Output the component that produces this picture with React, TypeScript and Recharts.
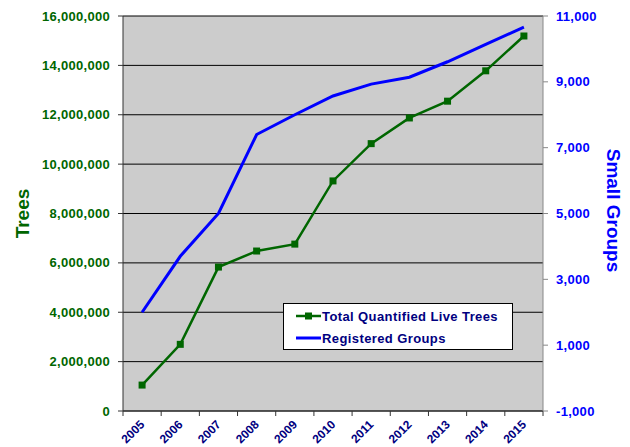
import React from "react";
import {
  ComposedChart,
  Line,
  XAxis,
  YAxis,
  CartesianGrid,
} from "recharts";

const years = [2005, 2006, 2007, 2008, 2009, 2010, 2011, 2012, 2013, 2014, 2015];
const liveTrees = [
  1050000, 2700000, 5830000, 6480000, 6760000, 9320000, 10830000, 11870000, 12550000, 13780000,
  15190000,
];
const registeredGroups = [2000, 3700, 5000, 7400, 8000, 8570, 8930, 9140, 9610, 10140, 10660];

const treeTicks = [0, 2000000, 4000000, 6000000, 8000000, 10000000, 12000000, 14000000, 16000000];
const groupTicks = [-1000, 1000, 3000, 5000, 7000, 9000, 11000];
// tick marks sit between the years, like the original
const yearBounds = [2004.5, 2005.5, 2006.5, 2007.5, 2008.5, 2009.5, 2010.5, 2011.5, 2012.5, 2013.5, 2014.5, 2015.5];

const FONT = "'Liberation Sans', Arial, sans-serif";
const GREEN = "#006600";
const BLUE = "#0000FF";
const NAVY = "#000080";

const data = years.map((y, i) => ({
  year: y,
  trees: liveTrees[i],
  groups: registeredGroups[i],
}));

const fmt = (v: number) => v.toLocaleString("en-US");

const YearTick = ({ x, y, payload }: any) => {
  const year = payload.value + 0.5;
  if (year > years[years.length - 1]) return null;
  const ax = x + 16;
  const ay = y + 1;
  return (
    <text
      x={ax}
      y={ay}
      transform={`rotate(-45, ${ax}, ${ay})`}
      textAnchor="end"
      dominantBaseline="hanging"
      fill={NAVY}
      fontSize={12}
      fontWeight="bold"
      fontFamily={FONT}
    >
      {year}
    </text>
  );
};

const SquareDot = (props: any) => {
  const { cx, cy, index } = props;
  return <rect key={`sq-${index}`} x={cx - 3.5} y={cy - 3.5} width={7} height={7} fill={GREEN} />;
};

const LegendBox = () => (
  <div
    style={{
      position: "absolute",
      left: 283,
      top: 303,
      width: 228,
      height: 45,
      background: "#fff",
      border: "1px solid #000",
      fontFamily: FONT,
      fontWeight: "bold",
      fontSize: 13,
      letterSpacing: 0.4,
      color: NAVY,
    }}
  >
    <div style={{ display: "flex", alignItems: "center", height: 22, marginTop: 1 }}>
      <svg width={36} height={10} style={{ marginLeft: 11 }}>
        <line x1={1} y1={5} x2={26} y2={5} stroke={GREEN} strokeWidth={2.5} />
        <rect x={10} y={1.5} width={7} height={7} fill={GREEN} />
      </svg>
      <span style={{ marginLeft: -9 }}>Total Quantified Live Trees</span>
    </div>
    <div style={{ display: "flex", alignItems: "center", height: 22 }}>
      <svg width={36} height={10} style={{ marginLeft: 11 }}>
        <line x1={1} y1={5} x2={26} y2={5} stroke={BLUE} strokeWidth={3} />
      </svg>
      <span style={{ marginLeft: -9 }}>Registered Groups</span>
    </div>
  </div>
);

export default function App() {
  return (
    <div style={{ position: "absolute", left: 0, top: 0, width: 630, height: 447, background: "#fff" }}>
      <ComposedChart
        width={630}
        height={447}
        data={data}
        margin={{ top: 16, right: 32, bottom: 6, left: 48 }}
      >
        <CartesianGrid
          yAxisId="trees"
          vertical={false}
          horizontal
          stroke="#000"
          strokeWidth={1}
          fill="#CCCCCC"
          fillOpacity={1}
        />
        <XAxis
          dataKey="year"
          type="number"
          domain={[2004.5, 2015.5]}
          ticks={yearBounds}
          interval={0}
          height={30}
          tick={<YearTick />}
          tickSize={5}
          axisLine={{ stroke: "#333" }}
          tickLine={{ stroke: "#333" }}
        />
        <YAxis
          yAxisId="trees"
          orientation="left"
          width={75}
          domain={[0, 16000000]}
          ticks={treeTicks}
          interval={0}
          tickFormatter={fmt}
          tickSize={5}
          tickMargin={8}
          axisLine={{ stroke: "#333" }}
          tickLine={{ stroke: "#333" }}
          tick={{ fill: GREEN, fontSize: 13, fontWeight: "bold", fontFamily: FONT, letterSpacing: 0.3 }}
          label={{
            content: (p: any) => {
              const vb = p.viewBox;
              const cx = vb.x - 26;
              const cy = vb.y + vb.height / 2;
              return (
                <text
                  x={cx}
                  y={cy}
                  transform={`rotate(-90, ${cx}, ${cy})`}
                  textAnchor="middle"
                  dominantBaseline="central"
                  fill={GREEN}
                  fontSize={19}
                  fontWeight="bold"
                  fontFamily={FONT}
                >
                  Trees
                </text>
              );
            },
          }}
        />
        <YAxis
          yAxisId="groups"
          orientation="right"
          width={55}
          domain={[-1000, 11000]}
          ticks={groupTicks}
          interval={0}
          tickFormatter={fmt}
          tickSize={5}
          tickMargin={8}
          axisLine={{ stroke: "#888" }}
          tickLine={{ stroke: "#888" }}
          tick={{ fill: BLUE, fontSize: 13, fontWeight: "bold", fontFamily: FONT, letterSpacing: 0.3 }}
          label={{
            content: (p: any) => {
              const vb = p.viewBox;
              const cx = vb.x + 70;
              const cy = vb.y + vb.height / 2 - 3;
              return (
                <text
                  x={cx}
                  y={cy}
                  transform={`rotate(90, ${cx}, ${cy})`}
                  textAnchor="middle"
                  dominantBaseline="central"
                  fill={BLUE}
                  fontSize={19}
                  fontWeight="bold"
                  fontFamily={FONT}
                >
                  Small Groups
                </text>
              );
            },
          }}
        />
        <Line
          yAxisId="groups"
          dataKey="groups"
          name="Registered Groups"
          stroke={BLUE}
          strokeWidth={3}
          dot={false}
          isAnimationActive={false}
        />
        <Line
          yAxisId="trees"
          dataKey="trees"
          name="Total Quantified Live Trees"
          stroke={GREEN}
          strokeWidth={2.5}
          dot={<SquareDot />}
          isAnimationActive={false}
        />
      </ComposedChart>
      <LegendBox />
    </div>
  );
}
